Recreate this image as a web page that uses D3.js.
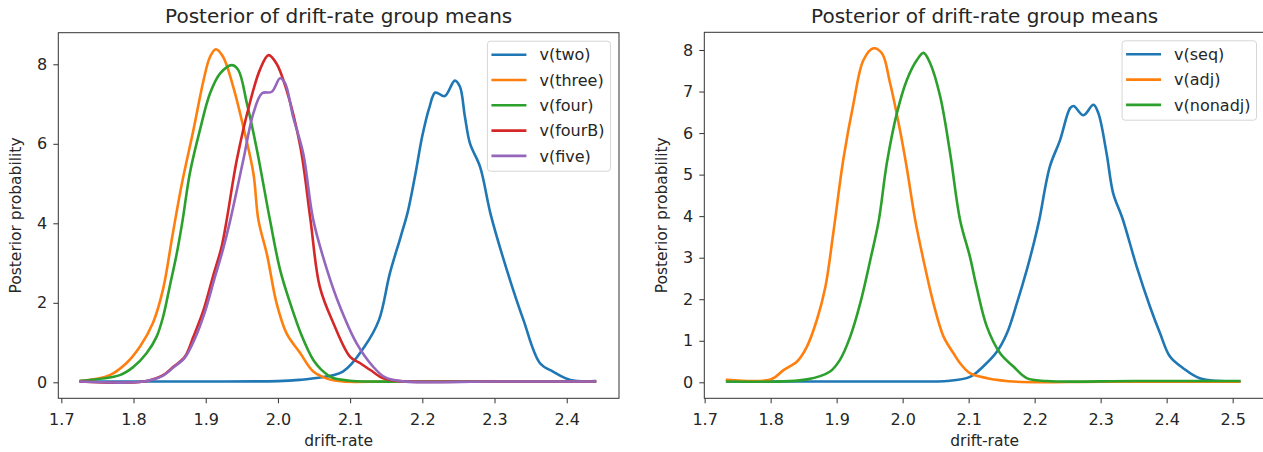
<!DOCTYPE html>
<html>
<head>
<meta charset="utf-8">
<script src="https://cdn.jsdelivr.net/npm/d3@7"></script>
<style>
  body { margin: 0; background: #fff; font-family: "DejaVu Sans", sans-serif; }
  svg text { fill: #262626; }
</style>
</head>
<body>
<svg id="chart" width="1263" height="452"></svg>
<script>
// ---- data ----
const titleText = "Posterior of drift-rate group means"
const xLabelText = "drift-rate"
const yLabelText = "Posterior probability"

const leftXTicks = [1.7, 1.8, 1.9, 2.0, 2.1, 2.2, 2.3, 2.4]
const leftYTicks = [0, 2, 4, 6, 8]
const rightXTicks = [1.7, 1.8, 1.9, 2.0, 2.1, 2.2, 2.3, 2.4, 2.5]
const rightYTicks = [0, 1, 2, 3, 4, 5, 6, 7, 8]

const leftNames = ["v(two)", "v(three)", "v(four)", "v(fourB)", "v(five)"]
const rightNames = ["v(seq)", "v(adj)", "v(nonadj)"]

// left panel
const twoX = [1.727, 1.80, 1.90, 2.00, 2.03, 2.05, 2.09, 2.12, 2.14, 2.155, 2.17, 2.18, 2.19, 2.20, 2.21, 2.218, 2.231, 2.245, 2.252, 2.259, 2.266, 2.28, 2.295, 2.317, 2.34, 2.363, 2.381, 2.405, 2.439]
const twoY = [0.02, 0.02, 0.02, 0.03, 0.06, 0.1, 0.27, 0.9, 1.57, 2.74, 3.66, 4.3, 5.2, 6.2, 6.93, 7.29, 7.2, 7.59, 7.44, 6.68, 6.01, 5.42, 4.2, 2.83, 1.57, 0.48, 0.27, 0.06, 0.03]

const threeX = [1.727, 1.767, 1.79, 1.809, 1.827, 1.841, 1.854, 1.867, 1.883, 1.897, 1.906, 1.914, 1.924, 1.938, 1.952, 1.966, 1.973, 1.985, 1.998, 2.012, 2.031, 2.049, 2.07, 2.09, 2.15, 2.25, 2.35, 2.439]
const threeY = [0.03, 0.18, 0.48, 0.9, 1.5, 2.35, 3.7, 5.0, 6.35, 7.6, 8.19, 8.38, 8.19, 7.44, 6.43, 5.26, 4.08, 3.2, 2.0, 1.23, 0.73, 0.27, 0.08, 0.02, 0.02, 0.02, 0.02, 0.02]

const fourX = [1.727, 1.781, 1.80, 1.818, 1.832, 1.841, 1.85, 1.86, 1.868, 1.878, 1.892, 1.906, 1.92, 1.936, 1.945, 1.957, 1.971, 1.989, 2.003, 2.017, 2.033, 2.049, 2.06, 2.075, 2.10, 2.2, 2.3, 2.439]
const fourY = [0.04, 0.18, 0.39, 0.73, 1.15, 1.65, 2.4, 3.25, 4.08, 5.26, 6.35, 7.27, 7.77, 7.98, 7.86, 7.02, 5.84, 4.08, 2.83, 1.99, 1.17, 0.56, 0.32, 0.12, 0.04, 0.02, 0.02, 0.02]

const fourBX = [1.727, 1.814, 1.841, 1.855, 1.871, 1.883, 1.897, 1.91, 1.922, 1.929, 1.943, 1.961, 1.975, 1.987, 1.998, 2.012, 2.031, 2.045, 2.058, 2.077, 2.10, 2.114, 2.128, 2.146, 2.169, 2.3, 2.439]
const fourBY = [0.02, 0.02, 0.18, 0.39, 0.64, 1.15, 1.82, 2.66, 3.41, 4.08, 5.59, 7.02, 7.86, 8.23, 8.02, 7.35, 5.93, 4.1, 2.4, 1.48, 0.64, 0.48, 0.31, 0.1, 0.03, 0.02, 0.02]

const fiveX = [1.727, 1.814, 1.841, 1.855, 1.871, 1.885, 1.899, 1.912, 1.924, 1.934, 1.952, 1.966, 1.978, 1.9915, 2.003, 2.01, 2.021, 2.035, 2.049, 2.068, 2.086, 2.109, 2.132, 2.148, 2.17, 2.3, 2.439]
const fiveY = [0.02, 0.02, 0.17, 0.37, 0.62, 1.1, 1.78, 2.6, 3.35, 4.08, 5.59, 6.77, 7.27, 7.31, 7.65, 7.52, 6.68, 5.76, 4.08, 2.83, 1.9, 0.98, 0.39, 0.13, 0.03, 0.02, 0.02]

// right panel
const seqX = [1.735, 1.85, 1.95, 2.03, 2.067, 2.102, 2.122, 2.143, 2.158, 2.173, 2.188, 2.2, 2.207, 2.223, 2.2385, 2.2537, 2.259, 2.274, 2.289, 2.2965, 2.309, 2.319, 2.333, 2.3547, 2.3748, 2.39, 2.405, 2.425, 2.45, 2.51]
const seqY = [0.02, 0.02, 0.02, 0.02, 0.03, 0.13, 0.38, 0.74, 1.18, 1.9, 2.7, 3.43, 3.91, 5.19, 5.83, 6.6, 6.65, 6.43, 6.68, 6.48, 5.51, 4.55, 3.95, 2.78, 1.82, 1.18, 0.62, 0.34, 0.1, 0.02]

const adjX = [1.734, 1.80, 1.82, 1.84, 1.855, 1.87, 1.883, 1.895, 1.91, 1.9256, 1.9407, 1.9559, 1.9686, 1.981, 1.996, 2.006, 2.019, 2.0316, 2.0467, 2.062, 2.077, 2.087, 2.102, 2.128, 2.173, 2.3, 2.51]
const adjY = [0.06, 0.07, 0.3, 0.5, 0.86, 1.5, 2.3, 3.6, 5.35, 6.72, 7.76, 8.04, 7.92, 7.2, 6.07, 5.19, 3.91, 2.94, 1.9, 1.1, 0.7, 0.46, 0.22, 0.1, 0.015, 0.015, 0.015]

const nonadjX = [1.734, 1.855, 1.89, 1.905, 1.9206, 1.9357, 1.9509, 1.964, 1.976, 1.9913, 2.0064, 2.0216, 2.0316, 2.0417, 2.0569, 2.072, 2.087, 2.102, 2.112, 2.1276, 2.1477, 2.1678, 2.188, 2.218, 2.35, 2.51]
const nonadjY = [0.02, 0.07, 0.26, 0.54, 1.1, 1.9, 2.94, 3.91, 5.27, 6.48, 7.28, 7.76, 7.93, 7.68, 6.88, 5.51, 3.91, 3.02, 2.3, 1.34, 0.7, 0.38, 0.1, 0.03, 0.03, 0.03]

const colors = ["#1f77b4", "#ff7f0e", "#2ca02c", "#d62728", "#9467bd"]

// ---- layout ----
const panels = [
    {
        box: { left: 58.3, right: 619, top: 32.7, bottom: 398.3 },
        xDomain: [1.6958, 2.4724], yDomain: [-0.4025, 8.795],
        xTicks: leftXTicks, yTicks: leftYTicks,
        names: leftNames,
        series: [[twoX, twoY], [threeX, threeY], [fourX, fourY], [fourBX, fourBY], [fiveX, fiveY]]
    },
    {
        box: { left: 704.3, right: 1265, top: 32.3, bottom: 398.3 },
        xDomain: [1.6995, 2.549], yDomain: [-0.385, 8.426],
        xTicks: rightXTicks, yTicks: rightYTicks,
        names: rightNames,
        series: [[seqX, seqY], [adjX, adjY], [nonadjX, nonadjY]]
    }
]

const svg = d3.select("#chart")
const tickFont = 16
const labelFont = 15.5
const legendFont = 16
const titleFont = 20

panels.forEach((p) => {
    const b = p.box
    const x = d3.scaleLinear().domain(p.xDomain).range([b.left, b.right])
    const y = d3.scaleLinear().domain(p.yDomain).range([b.bottom, b.top])

    const g = svg.append("g")

    // curves
    const line = d3.line()
        .x(d => x(d[0]))
        .y(d => y(d[1]))
        .curve(d3.curveCatmullRom.alpha(0.5))

    p.series.forEach(([xs, ys], i) => {
        const pts = xs.map((v, k) => [v, ys[k]])
        g.append("path")
            .datum(pts)
            .attr("d", line)
            .attr("fill", "none")
            .attr("stroke", colors[i])
            .attr("stroke-width", 2.6)
            .attr("stroke-linejoin", "round")
            .attr("stroke-linecap", "square")
    })

    // axes
    const xAxis = d3.axisBottom(x)
        .tickValues(p.xTicks)
        .tickFormat(d3.format(".1f"))
        .tickSize(5)
        .tickPadding(10)
    const yAxis = d3.axisLeft(y)
        .tickValues(p.yTicks)
        .tickFormat(d3.format("d"))
        .tickSize(5)
        .tickPadding(6)

    const gx = g.append("g")
        .attr("transform", `translate(0, ${b.bottom})`)
        .call(xAxis)
    const gy = g.append("g")
        .attr("transform", `translate(${b.left}, 0)`)
        .call(yAxis)

    ;[gx, gy].forEach(a => {
        a.select(".domain").remove()
        a.selectAll(".tick line").attr("stroke", "#333").attr("stroke-width", 1)
        a.selectAll(".tick text")
            .attr("font-family", "DejaVu Sans")
            .attr("font-size", tickFont)
            .style("fill", "#262626")
    })

    // frame
    g.append("rect")
        .attr("x", b.left).attr("y", b.top)
        .attr("width", b.right - b.left).attr("height", b.bottom - b.top)
        .attr("fill", "none")
        .attr("stroke", "#333")
        .attr("stroke-width", 1)

    // title and labels
    const cx = (b.left + b.right) / 2
    g.append("text")
        .attr("x", cx).attr("y", b.top - 9.5)
        .attr("text-anchor", "middle")
        .attr("font-size", titleFont)
        .text(titleText)

    g.append("text")
        .attr("x", cx).attr("y", b.bottom + 47.5)
        .attr("text-anchor", "middle")
        .attr("font-size", labelFont)
        .text(xLabelText)

    g.append("text")
        .attr("transform", `translate(${b.left - 37}, ${(b.top + b.bottom) / 2}) rotate(-90)`)
        .attr("text-anchor", "middle")
        .attr("font-size", labelFont)
        .text(yLabelText)

    // legend, anchored to upper right
    const leg = g.append("g")
    const rowH = 25.3
    const texts = p.names.map((name) => leg.append("text")
        .attr("font-size", legendFont)
        .attr("dy", "0.35em")
        .text(name))
    const maxW = d3.max(texts, t => t.node().getComputedTextLength())
    const handleLen = 35, pad = 4, gap = 13
    const boxW = pad + handleLen + gap + maxW + 6
    const boxH = rowH * p.names.length + 3.5
    const bx = b.right - 8.5 - boxW
    const by = b.top + 8.5

    leg.insert("rect", "text")
        .attr("x", bx).attr("y", by)
        .attr("width", boxW).attr("height", boxH)
        .attr("rx", 3)
        .attr("fill", "#fff").attr("fill-opacity", 0.8)
        .attr("stroke", "#d6d6d6").attr("stroke-width", 1)

    p.names.forEach((name, i) => {
        const ry = by + 13.5 + i * rowH
        leg.append("line")
            .attr("x1", bx + pad).attr("x2", bx + pad + handleLen)
            .attr("y1", ry).attr("y2", ry)
            .attr("stroke", colors[i]).attr("stroke-width", 2.6)
        texts[i].attr("x", bx + pad + handleLen + gap).attr("y", ry)
    })
})
</script>
</body>
</html>
